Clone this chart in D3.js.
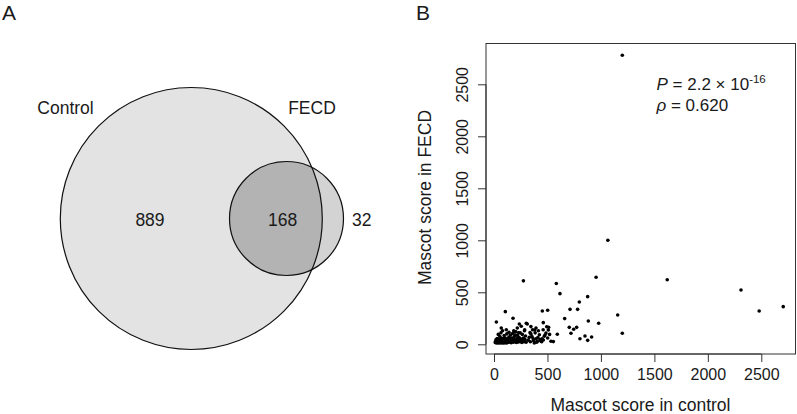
<!DOCTYPE html>
<html><head><meta charset="utf-8">
<script src="https://cdn.jsdelivr.net/npm/d3@7"></script>
<style>body{margin:0;background:#fff}svg{display:block}text{font-family:"Liberation Sans",Arial,sans-serif;fill:#1a1a1a}</style>
</head><body>
<svg id="c" width="797" height="414"></svg>
<script>
// ---- Panel A: Venn ----
const vennSets = ["Control", "FECD"];
const vennCounts = [889, 168, 32]; // control only, both, FECD only

// ---- Panel B: scatter (Mascot scores of shared proteins) ----
const controlScores = [
1200,1065,275,583,617,955,1620,2310,2480,2705,1157,1200,876,798,711,782,661,882,979,704,745,773,720,804,851,876,913,592,555,22,106,178,302,452,502,461,
12,15,18,20,22,25,28,30,32,35,38,40,42,45,48,50,52,55,58,60,62,65,68,70,72,75,78,80,82,85,88,90,92,95,98,100,105,108,110,115,118,120,125,130,
135,140,145,150,155,160,165,170,175,180,185,190,195,200,205,210,215,220,225,230,235,240,245,250,255,260,265,270,275,280,285,290,295,300,
40,55,65,68,80,95,115,120,185,218,255,287,230,200,105,140,
311,330,346,361,377,393,393,424,440,449,470,486,502,511,533,446,461,477,493,508,320,340,355,370,385,400,410,430,415,460,520,345,365,405,
337,380,193,237];
const fecdScores = [
2780,1000,610,585,487,645,620,522,320,362,282,106,458,407,336,336,247,224,202,163,144,163,106,54,80,38,70,96,26,215,314,250,202,320,327,208,
18,30,22,45,12,35,20,55,15,28,40,18,25,12,33,50,20,15,38,25,60,18,30,12,45,22,35,15,55,28,18,40,12,32,22,48,15,30,20,38,12,25,52,18,
35,70,22,45,90,15,60,30,105,20,48,75,25,38,120,18,55,85,30,22,65,40,110,28,50,18,95,35,60,25,130,45,80,20,
95,75,110,157,130,85,140,100,130,157,173,140,110,90,60,115,
195,67,99,140,12,157,54,92,29,54,77,109,61,163,29,25,41,89,169,137,40,25,75,35,110,20,65,45,130,140,95,170,55,30,
112,137,121,195];
const xTicks = [0, 500, 1000, 1500, 2000, 2500];
const yTicks = [0, 500, 1000, 1500, 2000, 2500];
const statP = "2.2";
const statExp = "-16";
const statRho = "0.620";

const svg = d3.select("#c");
const FONT = "Liberation Sans, Arial, sans-serif";

// ===== Panel A =====
svg.append("text").attr("x", 2).attr("y", 20).attr("font-size", 21).text("A");
const totals = [vennCounts[0] + vennCounts[1], vennCounts[1] + vennCounts[2]];
const rScale = d3.scaleSqrt().domain([0, d3.max(totals)]).range([0, 131]);
const rBig = rScale(totals[0]), rSmall = rScale(totals[1]);
const cy = 218.5;
const cxBig = 191.3, cxSmall = 286.5;
const defs = svg.append("defs");
defs.append("clipPath").attr("id", "clipBig").append("circle")
  .attr("cx", cxBig).attr("cy", cy).attr("r", rBig);
const g = svg.append("g");
g.append("circle").attr("cx", cxBig).attr("cy", cy).attr("r", rBig).attr("fill", "#e3e3e3");
g.append("circle").attr("cx", cxSmall).attr("cy", cy).attr("r", rSmall).attr("fill", "#d3d3d3");
g.append("circle").attr("cx", cxSmall).attr("cy", cy).attr("r", rSmall).attr("fill", "#b3b3b3").attr("clip-path", "url(#clipBig)");
g.append("circle").attr("cx", cxBig).attr("cy", cy).attr("r", rBig).attr("fill", "none").attr("stroke", "#111").attr("stroke-width", 1.2);
g.append("circle").attr("cx", cxSmall).attr("cy", cy).attr("r", rSmall).attr("fill", "none").attr("stroke", "#111").attr("stroke-width", 1.2);
const vfs = 17.5;
g.append("text").attr("x", 65.5).attr("y", 114).attr("text-anchor", "middle").attr("font-size", vfs).text(vennSets[0]);
g.append("text").attr("x", 312).attr("y", 114).attr("text-anchor", "middle").attr("font-size", vfs).text(vennSets[1]);
const countX = [150, 282.7, 361.7];
vennCounts.forEach((v, i) => {
  g.append("text").attr("x", countX[i]).attr("y", 225.5).attr("text-anchor", "middle").attr("font-size", vfs).text(v);
});

// ===== Panel B =====
svg.append("text").attr("x", 416).attr("y", 19.5).attr("font-size", 21).text("B");
const box = {l: 486, r: 795.5, t: 43.5, b: 354};
const x = d3.scaleLinear().domain([0, 2500]).range([494, 761.3]);
const y = d3.scaleLinear().domain([0, 2500]).range([344.3, 84.3]);
svg.append("rect").attr("x", box.l).attr("y", box.t).attr("width", box.r - box.l).attr("height", box.b - box.t)
  .attr("fill", "none").attr("stroke", "#333").attr("stroke-width", 1);

const xAxis = svg.append("g").attr("transform", `translate(0,${box.b})`)
  .call(d3.axisBottom(x).tickValues(xTicks).tickSize(8).tickPadding(7).tickFormat(d3.format("d")));
xAxis.select(".domain").attr("stroke", "#333").attr("d", `M${x(0)},0H${x(2500)}`);
xAxis.selectAll(".tick line").attr("stroke", "#333");
xAxis.selectAll(".tick text").attr("font-size", 16).attr("font-family", FONT).attr("fill", "#1a1a1a");

const yAxis = svg.append("g").attr("transform", `translate(${box.l},0)`)
  .call(d3.axisLeft(y).tickValues(yTicks).tickSize(8).tickFormat(d3.format("d")));
yAxis.select(".domain").attr("stroke", "#333").attr("d", `M0,${y(0)}V${y(2500)}`);
yAxis.selectAll(".tick line").attr("stroke", "#333");
yAxis.selectAll(".tick text").attr("font-size", 16).attr("font-family", FONT).attr("fill", "#1a1a1a")
  .attr("x", null).attr("dy", null).attr("text-anchor", "middle")
  .attr("transform", "translate(-18,0) rotate(-90)");

const pts = controlScores.map((c, i) => [c, fecdScores[i]]);
svg.append("g").selectAll("circle").data(pts).join("circle")
  .attr("cx", d => x(d[0])).attr("cy", d => y(d[1])).attr("r", 1.8).attr("fill", "#000");

svg.append("text").attr("x", 640.5).attr("y", 411).attr("text-anchor", "middle").attr("font-size", 17.5)
  .text("Mascot score in control");
svg.append("text").attr("transform", "translate(431,197.5) rotate(-90)").attr("text-anchor", "middle").attr("font-size", 17.5)
  .text("Mascot score in FECD");

const ann = svg.append("text").attr("x", 656.5).attr("y", 90).attr("font-size", 17);
ann.append("tspan").attr("font-style", "italic").text("P");
ann.append("tspan").text(` = ${statP} \u00d7 10`);
ann.append("tspan").attr("font-size", 11.5).attr("dy", -7).text(statExp);
const ann2 = svg.append("text").attr("x", 656.5).attr("y", 111).attr("font-size", 17);
ann2.append("tspan").attr("font-style", "italic").text("\u03c1");
ann2.append("tspan").text(` = ${statRho}`);
</script>
</body></html>
